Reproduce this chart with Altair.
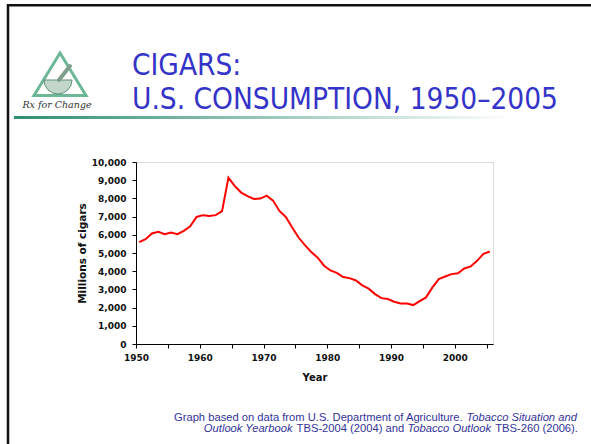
import altair as alt
import pandas as pd

years = list(range(1950, 2006))
cigars = [5600, 5760, 6070, 6160, 6030, 6120, 6030, 6220, 6470, 6980,
          7080, 7040, 7080, 7300, 9140, 8670, 8320, 8120, 7970, 7990,
          8150, 7880, 7310, 6980, 6400, 5850, 5430, 5050, 4740, 4300,
          4040, 3910, 3680, 3620, 3490, 3220, 3040, 2740, 2520, 2470,
          2320, 2230, 2230, 2140, 2360, 2560, 3110, 3570, 3710, 3840,
          3890, 4150, 4260, 4570, 4950, 5080]
y_ticks = list(range(0, 10001, 1000))
x_ticks = [1949.5 + 5 * k for k in range(12)]

title_lines = ["CIGARS:", "U.S. CONSUMPTION, 1950\u20132005"]
foot_line1 = ["Graph based on data from U.S. Department of Agriculture.", "Tobacco Situation and"]
foot_line2 = ["Outlook Yearbook", "TBS-2004 (2004) and", "Tobacco Outlook", "TBS-260 (2006)."]
logo_text = ["Rx for Change"]

OX, OY = 136, 162
W, H = 357, 182

df = pd.DataFrame({"year": years, "cigars": cigars})

line = alt.Chart(df).mark_line(color="#ff0000", strokeWidth=2).encode(
    x=alt.X("year:Q",
            scale=alt.Scale(domain=[1949.5, 2005.5], nice=False, zero=False),
            axis=alt.Axis(values=x_ticks, title="Year",
                          labelExpr="(datum.value + 0.5) % 10 == 0 ? '' + (datum.value + 0.5) : ''",
                          grid=False, domainColor="#000", tickColor="#000", tickSize=4,
                          labelFont="DejaVu Sans", labelFontWeight="bold", labelFontSize=9,
                          labelColor="#111", labelPadding=5, labelFlush=False,
                          titleFont="DejaVu Sans", titleFontWeight="bold", titleFontSize=10,
                          titleColor="#111", titlePadding=10)),
    y=alt.Y("cigars:Q",
            scale=alt.Scale(domain=[0, 10000], nice=False),
            axis=alt.Axis(values=y_ticks, format=",.0f", title="Millions of cigars",
                          grid=False, domainColor="#000", tickColor="#000", tickSize=4,
                          labelFont="DejaVu Sans", labelFontWeight="bold", labelFontSize=9,
                          labelColor="#111", labelPadding=6,
                          titleFont="DejaVu Sans", titleFontWeight="bold", titleFontSize=10.5,
                          titleColor="#111", titlePadding=4)),
)


def tx(v):
    return alt.value(v - OX)


def ty(v):
    return alt.value(v - OY)


one = pd.DataFrame({"k": [0]})

border = alt.Chart(one).mark_rect(fillOpacity=0, stroke="#111", strokeWidth=2.5).encode(
    x=tx(8), x2=tx(640), y=ty(5.3), y2=ty(480))

grad = alt.Gradient(gradient="linear",
                    stops=[alt.GradientStop(color="#2f8f6f", offset=0),
                           alt.GradientStop(color="#ffffff", offset=1)],
                    x1=0, x2=1, y1=0, y2=0)
rule = alt.Chart(one).mark_rect(color=grad).encode(
    x=tx(14), x2=tx(512), y=ty(116), y2=ty(119))

t1 = alt.Chart(pd.DataFrame({"t": [title_lines[0]]})).mark_text(
    align="left", baseline="alphabetic", font="DejaVu Sans Condensed", fontSize=29.5,
    color="#3434c8").encode(text="t:N", x=tx(132), y=ty(74.5))
t2 = alt.Chart(pd.DataFrame({"t": [title_lines[1]]})).mark_text(
    align="left", baseline="alphabetic", font="DejaVu Sans Condensed", fontSize=29.5,
    color="#3434c8").encode(text="t:N", x=tx(132), y=ty(109))

# logo
tri = alt.Chart(one).mark_point(shape="M0,-1L1,0.63L-1,0.63Z", size=52 * 52, filled=False,
                                 stroke="#2e9a6a", strokeWidth=3).encode(
    x=tx(60), y=ty(79))
bowl = alt.Chart(one).mark_arc(theta=1.5708, theta2=4.7124, radius=14, fill="#c3d6ca",
                               stroke="#5f8f75", strokeWidth=1).encode(x=tx(58), y=ty(80))
pestle = alt.Chart(one).mark_rule(stroke="#7f9f8c", strokeWidth=4, strokeCap="round").encode(
    x=tx(59), x2=tx(70), y=ty(80), y2=ty(66))
logo_t = alt.Chart(pd.DataFrame({"t": logo_text})).mark_text(
    align="center", baseline="alphabetic", font="DejaVu Serif", fontStyle="italic", fontSize=9.5,
    color="#333").encode(text="t:N", x=tx(57), y=ty(108))

# footnote layout (Arial em widths)
fs = 11.2
fcol = "#333399"
ff = "Liberation Sans"
R = 578
w1a, w1b = 26.123, 9.950
w2a, w2b, w2c, w2d = 8.004, 10.172, 7.559, 7.670
sp = 0.278
L1 = R - (w1a + w1b) * fs
L2 = R - (w2a + w2b + w2c + w2d) * fs


def seg(text, x, y, italic):
    kw = dict(align="left", baseline="alphabetic", font=ff, fontSize=fs, color=fcol)
    if italic:
        kw["fontStyle"] = "italic"
    return alt.Chart(pd.DataFrame({"t": [text]})).mark_text(**kw).encode(
        text="t:N", x=tx(x), y=ty(y))


Y1, Y2 = 420.5, 432
f1 = seg(foot_line1[0], L1, Y1, False)
f2 = seg(foot_line1[1], L1 + w1a * fs, Y1, True)
f3 = seg(foot_line2[0], L2, Y2, True)
f4 = seg(foot_line2[1], L2 + (w2a + sp) * fs, Y2, False)
f5 = seg(foot_line2[2], L2 + (w2a + w2b) * fs, Y2, True)
f6 = seg(foot_line2[3], L2 + (w2a + w2b + w2c + sp) * fs, Y2, False)

chart = alt.layer(border, rule, t1, t2, tri, bowl, pestle, logo_t, line,
                  f1, f2, f3, f4, f5, f6).properties(
    width=W, height=H,
    autosize=alt.AutoSizeParams(type="none"),
    padding={"left": OX, "top": OY, "right": 591 - OX - W, "bottom": 444 - OY - H},
).configure_view(stroke=None).configure(background="white")

chart.save("out.html", embed_options={"renderer": "svg", "actions": False})
